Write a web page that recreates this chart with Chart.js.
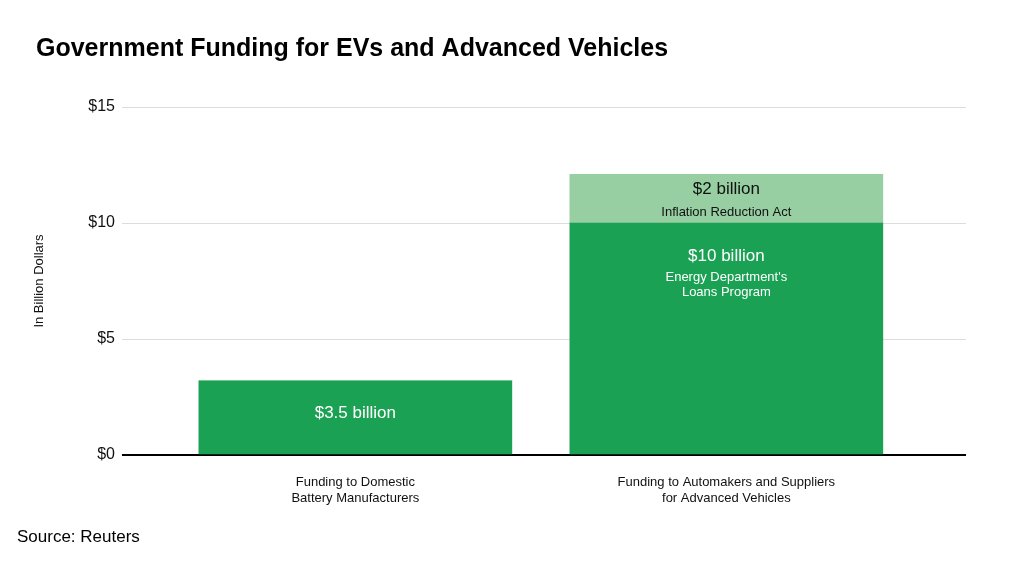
<!DOCTYPE html>
<html>
<head>
<meta charset="utf-8">
<script src="https://cdn.jsdelivr.net/npm/chart.js@4"></script>
<style>
  html, body { margin: 0; padding: 0; background: #ffffff; }
  #wrap { width: 1024px; height: 565px; position: relative; }
</style>
</head>
<body>
<div id="wrap"><canvas id="chart" width="1024" height="565"></canvas></div>
<script>
/* Government Funding for EVs and Advanced Vehicles */

const CATEGORIAS = [
  ['Funding to Domestic', 'Battery Manufacturers'],
  ['Funding to Automakers and Suppliers', 'for Advanced Vehicles'],
];
const VALORES_BASE = [3.2, 10];     // barra verde oscura
const VALORES_TOPE = [0, 2.1];      // barra verde clara (solo la segunda)
const ETIQUETAS_BASE = [
  ['$3.5 billion'],
  ['$10 billion', "Energy Department's", 'Loans Program'],
];
const ETIQUETAS_TOPE = [
  null,
  ['$2 billion', 'Inflation Reduction Act'],
];
const TICKS_Y = [0, 5, 10, 15];

const FUENTE = "'Liberation Sans', Arial, sans-serif";
const VERDE = '#1ba154';
const VERDE_CLARO = '#97cfa3';

// Textos fijos: título y fuente
const textosFijos = {
  id: 'textosFijos',
  afterDraw(chart) {
    const ctx = chart.ctx;
    ctx.save();
    ctx.fillStyle = '#000';
    ctx.textBaseline = 'middle';
    ctx.textAlign = 'left';
    ctx.font = `bold 25px ${FUENTE}`;
    ctx.fillText('Government Funding for EVs and Advanced Vehicles', 36, 49);
    ctx.font = `17px ${FUENTE}`;
    ctx.fillText('Source: Reuters', 17, 537);
    ctx.restore();
  }
};

// Etiquetas dentro de las barras
const etiquetasBarras = {
  id: 'etiquetasBarras',
  afterDatasetsDraw(chart) {
    const ctx = chart.ctx;
    ctx.save();
    ctx.textAlign = 'center';
    ctx.textBaseline = 'middle';
    const pintar = (el, lineas, color, offs) => {
      if (!lineas) return;
      ctx.fillStyle = color;
      lineas.forEach((t, j) => {
        ctx.font = j === 0 ? `17px ${FUENTE}` : `13px ${FUENTE}`;
        ctx.fillText(t, el.x, el.y + offs[j]);
      });
    };
    chart.getDatasetMeta(0).data.forEach((el, i) =>
      pintar(el, ETIQUETAS_BASE[i], '#ffffff', [33, 54, 69]));
    chart.getDatasetMeta(1).data.forEach((el, i) =>
      pintar(el, ETIQUETAS_TOPE[i], '#111111', [15, 38]));
    ctx.restore();
  }
};

new Chart(document.getElementById('chart'), {
  type: 'bar',
  data: {
    datasets: [
      {
        label: 'Base',
        data: VALORES_BASE.map((v, i) => ({ x: i, y: v })),
        backgroundColor: VERDE,
        barThickness: 313,
        borderWidth: 0,
      },
      {
        label: 'Tope',
        data: VALORES_TOPE.map((v, i) => ({ x: i, y: v })),
        backgroundColor: VERDE_CLARO,
        barThickness: 313,
        borderWidth: 0,
      },
    ]
  },
  options: {
    responsive: false,
    animation: false,
    devicePixelRatio: 1,
    layout: { padding: { top: 107, right: 58, bottom: 0, left: 0 } },
    plugins: { legend: { display: false }, tooltip: { enabled: false } },
    scales: {
      x: {
        type: 'linear',
        stacked: true,
        offset: false,
        min: -0.629,
        max: 1.646,
        afterBuildTicks: s => { s.ticks = [{ value: 0 }, { value: 1 }]; },
        afterFit: s => { s.height = 110; },
        grid: { display: false },
        border: { display: false },
        ticks: {
          callback: v => CATEGORIAS[v],
          font: { family: FUENTE, size: 13, lineHeight: 1.25 },
          color: '#111',
          padding: 11,
          maxRotation: 0,
          autoSkip: false,
        }
      },
      y: {
        stacked: true,
        min: 0,
        max: 15,
        afterBuildTicks: s => { s.ticks = TICKS_Y.map(v => ({ value: v })); },
        afterFit: s => { s.width = 122; },
        border: { display: false },
        grid: {
          drawTicks: false,
          color: c => c.tick && c.tick.value === 0 ? '#000000' : '#dddddd',
          lineWidth: c => c.tick && c.tick.value === 0 ? 2 : 1,
        },
        ticks: {
          callback: v => '$' + v,
          font: { family: FUENTE, size: 16 },
          color: '#111',
          padding: 7,
        },
        title: {
          display: true,
          text: 'In Billion Dollars',
          font: { family: FUENTE, size: 13 },
          color: '#111',
          padding: { top: 32, bottom: 0 },
        }
      }
    }
  },
  plugins: [textosFijos, etiquetasBarras]
});
</script>
</body>
</html>
